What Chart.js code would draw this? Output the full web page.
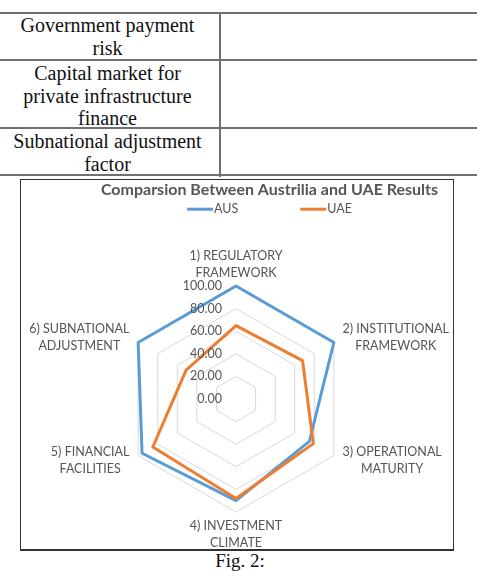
<!DOCTYPE html>
<html>
<head>
<meta charset="utf-8">
<script src="https://cdn.jsdelivr.net/npm/chart.js@4"></script>
<style>
body { margin:0; background:#fff; width:477px; height:571px; overflow:hidden; position:relative; font-family:"Liberation Serif", "Times New Roman", serif; color:#111; }
.hl { position:absolute; left:0; width:477px; height:2px; background:#707070; }
.vl { position:absolute; left:219px; top:13px; width:2px; height:164px; background:#707070; }
.cell { position:absolute; left:0; width:215px; text-align:center; font-size:20px; line-height:22.5px; }
#box { position:absolute; left:20px; top:179px; width:432px; height:369px; border:1px solid #333; border-bottom-width:2px; }
#box canvas { position:absolute; left:0; top:0; }
#cap { position:absolute; left:0; width:480px; top:551px; text-align:center; font-size:19px; line-height:19px; }
</style>
</head>
<body>
<div class="hl" style="top:12px"></div>
<div class="hl" style="top:59px"></div>
<div class="hl" style="top:127px"></div>
<div class="hl" style="top:174px"></div>
<div class="vl"></div>
<div class="cell" style="top:14px">Government payment<br>risk</div>
<div class="cell" style="top:62px">Capital market for<br>private infrastructure<br>finance</div>
<div class="cell" style="top:130px">Subnational adjustment<br>factor</div>

<div id="box"><canvas id="radar" width="432" height="369"></canvas></div>
<div id="cap">Fig. 2:</div>

<script>
var categories = [
    ["1) REGULATORY", "FRAMEWORK"],
    ["2) INSTITUTIONAL", "FRAMEWORK"],
    ["3) OPERATIONAL", "MATURITY"],
    ["4) INVESTMENT", "CLIMATE"],
    ["5) FINANCIAL", "FACILITIES"],
    ["6) SUBNATIONAL", "ADJUSTMENT"]
];
var aus = [100, 100, 75, 90, 96, 100];
var uae = [65, 68, 79, 88, 85, 51];
var tickMin = 0;
var tickMax = 100;
var tickStep = 20;

var textGrey = "#555555";
var labelFont = "12.5px Lato";

// excel puts the plot a bit left of the title, labels sit beside the corners
var excelRadar = {
    id: "excelRadar",
    afterLayout: function(chart) {
        var r = chart.scales.r;
        r.xCenter = 215;
        r.yCenter = 219;
        r.drawingArea = 113;
    },
    afterDraw: function(chart) {
        var r = chart.scales.r;
        var ctx = chart.ctx;
        ctx.save();
        ctx.fillStyle = textGrey;
        ctx.font = labelFont;

        // tick labels, right aligned left of the axis
        ctx.textAlign = "right";
        ctx.textBaseline = "middle";
        r.ticks.forEach(function(t) {
            ctx.fillText(t.label, r.xCenter - 14, r.yCenter - r.getDistanceFromCenterForValue(t.value));
        });

        // point labels
        ctx.textAlign = "center";
        var lh = 17;
        chart.data.labels.forEach(function(lines, i) {
            var up = r.getPointPosition(i, 1);
            var vertical = Math.abs(up.x - r.xCenter) < 0.1;
            var p = r.getPointPosition(i, r.drawingArea + (vertical ? 5 : 10));
            var w = Math.max.apply(null, lines.map(function(s) { return ctx.measureText(s).width; }));
            var h = lines.length * lh;
            var dx = p.x - r.xCenter;
            var dy = p.y - r.yCenter;
            var cx, top;
            if (vertical) {
                cx = p.x;
                top = dy < 0 ? p.y - h : p.y;
            } else {
                cx = dx > 0 ? p.x + w / 2 : p.x - w / 2;
                top = p.y - h / 2;
            }
            lines.forEach(function(s, k) {
                ctx.fillText(s, cx, top + lh * (k + 0.5));
            });
        });

        // legend: short line then the name
        var ds = chart.data.datasets;
        var lineLen = 26, gap = 62;
        var widths = ds.map(function(d) { return lineLen + 1 + ctx.measureText(d.label).width; });
        var total = widths.reduce(function(a, b) { return a + b; }, 0) + gap * (ds.length - 1);
        var x = (chart.chartArea.left + chart.chartArea.right) / 2 - total / 2;
        var y = chart.chartArea.top + 10;
        ctx.textAlign = "left";
        ds.forEach(function(d, i) {
            ctx.fillStyle = d.borderColor;
            ctx.fillRect(x, y - 1.5, lineLen, 3);
            ctx.fillStyle = textGrey;
            ctx.fillText(d.label, x + lineLen + 1, y);
            x += widths[i] + gap;
        });
        ctx.restore();
    }
};

var ctx_radar = document.getElementById("radar");

var chart_radar = new Chart(ctx_radar, {
    type: "radar",
    data: {
        labels: categories,
        datasets: [{
            label: "AUS",
            data: aus,
            borderColor: "#5B9BD5",
            backgroundColor: "transparent",
            borderWidth: 3,
            pointRadius: 0,
            fill: false,
            order: 1
        }, {
            label: "UAE",
            data: uae,
            borderColor: "#ED7D31",
            backgroundColor: "transparent",
            borderWidth: 3,
            pointRadius: 0,
            fill: false,
            order: 0
        }]
    },
    plugins: [excelRadar],
    options: {
        responsive: false,
        animation: false,
        layout: {
            padding: { left: 65, right: 0, top: 0, bottom: 0 }
        },
        elements: {
            line: { borderJoinStyle: "round", tension: 0 }
        },
        scales: {
            r: {
                min: tickMin,
                max: tickMax,
                ticks: {
                    display: false,
                    stepSize: tickStep,
                    callback: function(v) { return v.toFixed(2); }
                },
                grid: { color: "#d9d9d9", lineWidth: 1 },
                angleLines: { display: false },
                pointLabels: { display: false }
            }
        },
        plugins: {
            legend: { display: false },
            tooltip: { enabled: false },
            title: {
                display: true,
                text: "Comparsion Between Austrilia and UAE Results",
                color: textGrey,
                font: { family: "Lato", size: 16, weight: "bold" },
                padding: { top: 0, bottom: 0 }
            }
        }
    }
});
</script>
</body>
</html>
